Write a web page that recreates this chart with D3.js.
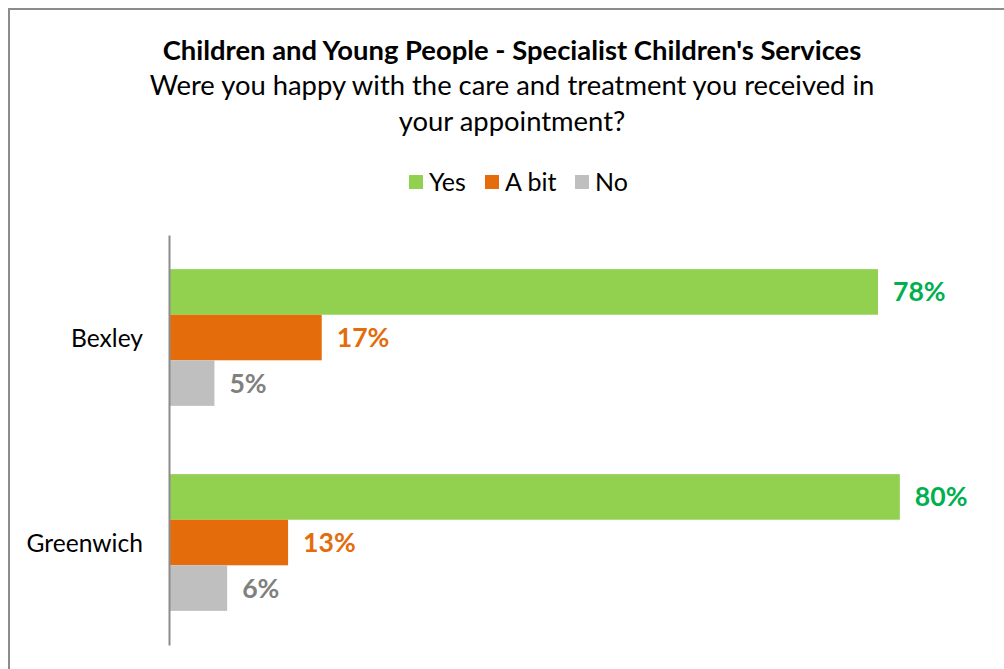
<!DOCTYPE html>
<html>
<head>
<meta charset="utf-8">
<script src="https://cdn.jsdelivr.net/npm/d3@7"></script>
<style>
  body { margin: 0; background: #fff; }
  svg { display: block; font-family: Lato, "Open Sans", sans-serif; }
</style>
</head>
<body>
<div id="chart"></div>
<script>
// data
const categories = ["Bexley", "Greenwich"]
const seriesNames = ["Yes", "A bit", "No"]
const yesValues = [0.78, 0.804]
const abitValues = [0.168, 0.131]
const noValues = [0.05, 0.064]
const barColors = ["#92D050", "#E46C0A", "#BFBFBF"]
const labelColors = ["#00B050", "#E46C0A", "#808080"]

const data = categories.map((c, i) => ({
  category: c,
  values: [yesValues[i], abitValues[i], noValues[i]]
}))

// constants
const width = 1004
const height = 669
const plot = { left: 169, top: 235, bottom: 645 }

const svg = d3.select("#chart")
  .append("svg")
  .attr("width", width)
  .attr("height", height)

// chart border (runs off the right and bottom edges)
svg.append("rect")
  .attr("x", 9).attr("y", 9)
  .attr("width", 1100).attr("height", 800)
  .attr("fill", "none")
  .attr("stroke", "#8c8c8c")
  .attr("stroke-width", 2)

// titles
svg.append("text")
  .attr("x", 512).attr("y", 59.5)
  .attr("text-anchor", "middle")
  .attr("font-size", 27.4).attr("font-weight", "bold")
  .text("Children and Young People - Specialist Children's Services")

svg.append("text")
  .attr("x", 512).attr("y", 94.5)
  .attr("text-anchor", "middle")
  .attr("font-size", 27.4)
  .text("Were you happy with the care and treatment you received in")

svg.append("text")
  .attr("x", 512).attr("y", 130.5)
  .attr("text-anchor", "middle")
  .attr("font-size", 27.4)
  .text("your appointment?")

// SCALES
const xScale = d3.scaleLinear()
  .domain([0, 1])
  .range([plot.left, plot.left + 909])

const yScale = d3.scaleBand()
  .domain(categories)
  .range([plot.top, plot.bottom])
  .paddingInner(0.333)
  .paddingOuter(0.1665)

const ySub = d3.scaleBand()
  .domain(seriesNames)
  .range([0, yScale.bandwidth()])

// legend
const legendX = [409, 485, 575]
const legend = svg.selectAll("g.legend")
  .data(seriesNames)
  .join("g")
  .attr("class", "legend")
  .attr("transform", (d, i) => `translate(${legendX[i]}, 175)`)
legend.append("rect")
  .attr("width", 14).attr("height", 14)
  .attr("fill", (d, i) => barColors[i])
legend.append("text")
  .attr("x", 20).attr("y", 16)
  .attr("font-size", 25)
  .text(d => d)

// bars
const groups = svg.selectAll("g.cat")
  .data(data)
  .join("g")
  .attr("class", "cat")
  .attr("transform", d => `translate(0, ${yScale(d.category)})`)

groups.selectAll("rect")
  .data(d => d.values)
  .join("rect")
  .attr("x", xScale(0))
  .attr("y", (d, i) => ySub(seriesNames[i]))
  .attr("width", d => xScale(d) - xScale(0))
  .attr("height", ySub.bandwidth())
  .attr("fill", (d, i) => barColors[i])

// value labels
groups.selectAll("text.value")
  .data(d => d.values)
  .join("text")
  .attr("class", "value")
  .attr("x", d => xScale(d) + 15)
  .attr("y", (d, i) => ySub(seriesNames[i]) + ySub.bandwidth() / 2)
  .attr("dy", "0.36em")
  .attr("font-size", 26.6).attr("font-weight", "bold")
  .attr("fill", (d, i) => labelColors[i])
  .text(d => d3.format(".0%")(d))

// category axis
const yAxis = svg.append("g")
  .attr("transform", `translate(${plot.left}, 0)`)
  .call(d3.axisLeft(yScale).tickSize(0).tickPadding(26))
yAxis.select(".domain")
  .attr("stroke", "#8c8c8c")
  .attr("stroke-width", 2)
yAxis.selectAll("text")
  .attr("font-size", 24.6)
  .attr("font-family", "Lato, 'Open Sans', sans-serif")
  .attr("fill", "#000")
  .attr("dy", "0.4em")
</script>
</body>
</html>
